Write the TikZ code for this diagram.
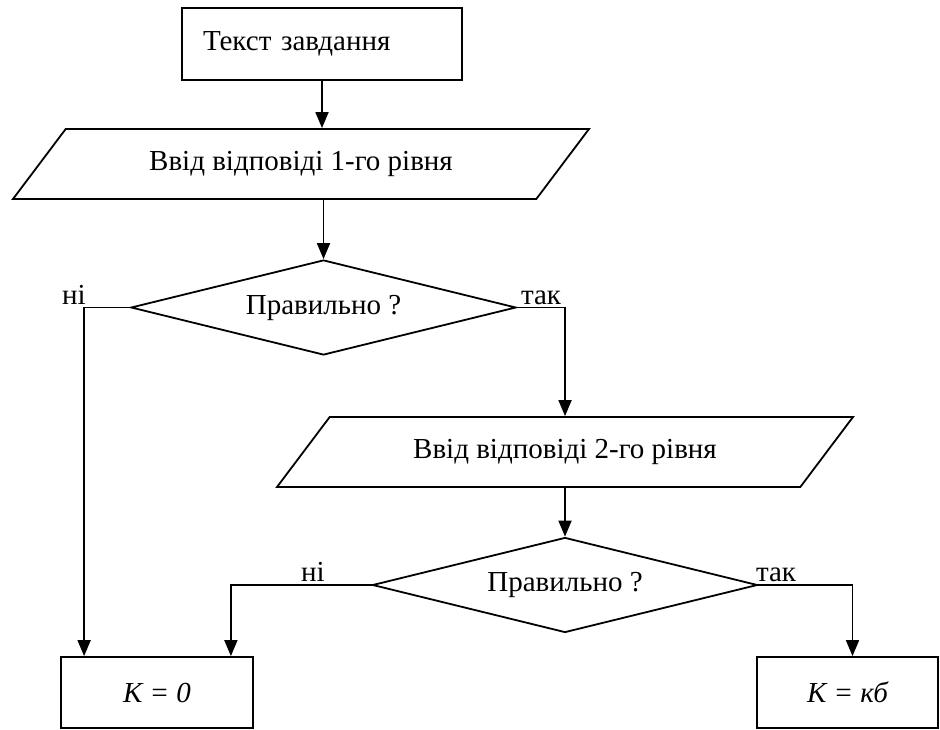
\documentclass[tikz,border=0pt]{standalone}
\usepackage{fontspec}
\setmainfont{Liberation Serif}
\usetikzlibrary{shapes.geometric,arrows.meta}

\begin{document}
\begin{tikzpicture}[x=1pt, y=-1pt,
font=\fontsize{29}{33}\selectfont, line width=1.8pt,
block/.style={draw, rectangle, minimum height=71pt},
io/.style={draw, trapezium, trapezium left angle=31.3, trapezium right angle=148.7,
    trapezium stretches body, minimum width=576pt, minimum height=70pt},
check/.style={draw, diamond, aspect=4, minimum width=385pt, minimum height=95pt, inner sep=0pt},
answer/.style={anchor=base, inner sep=0pt},
flow/.style={-{Triangle[width=13pt,length=16pt]}},
]
\useasboundingbox (0,0) rectangle (940,730);

\node[block, text width=238pt, inner xsep=21pt, minimum height=72pt, align=left] (task) at (322,44) {Текст завдання};
\node[io] (input1) at (301,164) {Ввід відповіді 1-го рівня};
\node[check] (check1) at (323.5,307.5) {Правильно ?};
\node[io] (input2) at (565,452) {Ввід відповіді 2-го рівня};
\node[check] (check2) at (565,585) {Правильно ?};
\node[block, minimum width=192pt] (zero) at (157,692.5) {\itshape К = 0};
\node[block, minimum width=181pt] (score) at (847.5,692.5) {\itshape К = кб};

% gilky
\node[answer] (no1) at (74,304) {ні};
\node[answer] (yes1) at (541,304) {так};
\node[answer] (no2) at (313,581) {ні};
\node[answer] (yes2) at (776,581) {так};

\draw[flow] (task.south) -- (task.south |- input1.north);
\draw[flow] (check1.north |- input1.south) -- (check1.north);
\draw[flow] (check1.west) -| ([xshift=24pt]zero.north west);
\draw[flow] (check1.east) -| (input2.north);
\draw[flow] (input2.south) -- (check2.north);
\draw[flow] (check2.west) -| ([xshift=-23pt]zero.north east);
\draw[flow] (check2.east) -| ([xshift=5pt]score.north);

\end{tikzpicture}
\end{document}
